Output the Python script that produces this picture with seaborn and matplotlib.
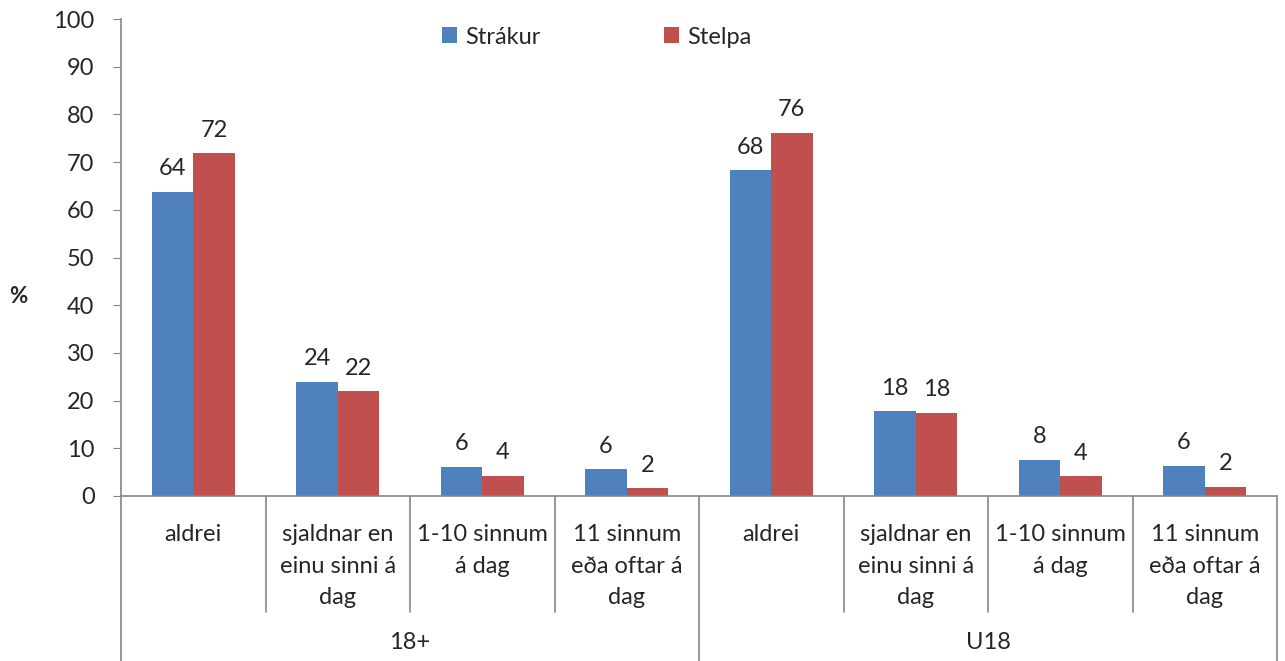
import pandas as pd
import matplotlib.pyplot as plt
import matplotlib.transforms as mtransforms
import seaborn as sns

# data
groups = ["18+", "U18"]
answers = ["aldrei", "sjaldnar en\neinu sinni á\ndag", "1-10 sinnum\ná dag", "11 sinnum\neða oftar á\ndag"]
series = ["Strákur", "Stelpa"]
strakur = [63.8, 24.0, 6.1, 5.6, 68.3, 17.8, 7.6, 6.3]
stelpa = [71.9, 22.0, 4.2, 1.6, 76.2, 17.5, 4.1, 1.9]
y_ticks = list(range(0, 101, 10))

colors = ["#4F81BD", "#C0504D"]
gray = "#868686"
fs = 17

sns.set_style("white")
plt.rcParams['font.family'] = ['Lato', 'DejaVu Sans']

slots = [f"{g}|{a}" for g in groups for a in answers]
df = pd.DataFrame({
    "slot": slots * 2,
    "value": strakur + stelpa,
    "kyn": [series[0]] * len(slots) + [series[1]] * len(slots),
})

fig = plt.figure(figsize=(12.85, 6.61), dpi=100)
ax = fig.add_axes([121 / 1285, 1 - 496 / 661, (1277 - 121) / 1285, (496 - 19) / 661])

sns.barplot(data=df, x="slot", y="value", hue="kyn", order=slots, hue_order=series,
            palette=colors, width=0.571, saturation=1, ax=ax, edgecolor="none")

# value labels above bars
for cont in ax.containers:
    ax.bar_label(cont, labels=[f"{v:.0f}" for v in cont.datavalues], padding=9, fontsize=fs)

ax.set_ylim(0, 100)
ax.set_xlim(-0.5, len(slots) - 0.5)
ax.set_yticks(y_ticks)
ax.tick_params(axis='y', labelsize=fs, length=6, color=gray, left=True, pad=13)
ax.set_xticks([])
ax.set_xlabel("")
ax.set_ylabel("")
for side in ["top", "right"]:
    ax.spines[side].set_visible(False)
for side in ["left", "bottom"]:
    ax.spines[side].set_color(gray)
    ax.spines[side].set_linewidth(1.2)

# two-level category axis
trans = mtransforms.blended_transform_factory(ax.transData, ax.transAxes)
for i, s in enumerate(slots):
    ax.text(i, -0.059, s.split("|")[1], transform=trans, ha="center", va="top",
            fontsize=fs, linespacing=1.62)
for gi, g in enumerate(groups):
    ax.text(gi * len(answers) + (len(answers) - 1) / 2, -0.308, g, transform=trans,
            ha="center", va="center", fontsize=fs)
for i in range(len(slots) + 1):
    x = i - 0.5
    bottom = -0.243 if i % len(answers) else -0.346
    ax.plot([x, x], [0, bottom], transform=trans, color=gray, lw=1.2, clip_on=False)

fig.text(18 / 1285, 1 - 297 / 661, "%", fontsize=fs - 1, fontweight="bold", ha="center", va="center")

ax.legend(loc="center", bbox_to_anchor=(0.4645, 0.944), bbox_transform=fig.transFigure,
          ncol=2, frameon=False, fontsize=fs, handlelength=0.65, handleheight=0.65,
          handletextpad=0.35, columnspacing=5.2)

fig.savefig("out.png", dpi=100)
